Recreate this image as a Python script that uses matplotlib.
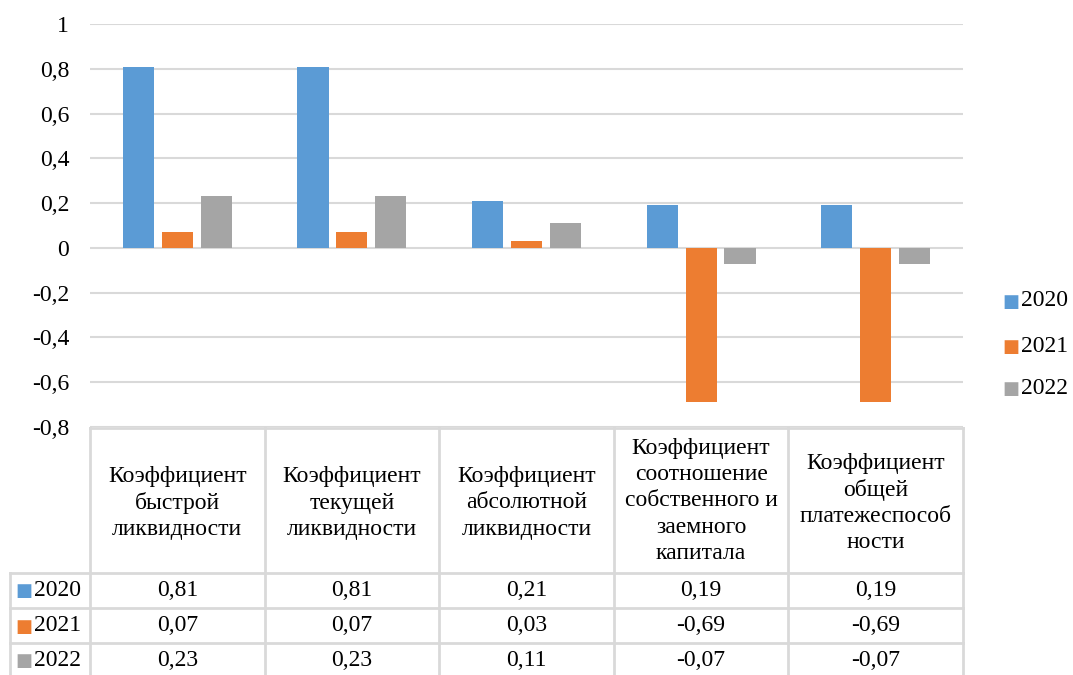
import numpy as np
import matplotlib.pyplot as plt
from matplotlib.ticker import FuncFormatter

categories = ["Коэффициент\nбыстрой\nликвидности",
              "Коэффициент\nтекущей\nликвидности",
              "Коэффициент\nабсолютной\nликвидности",
              "Коэффициент\nсоотношение\nсобственного и\nзаемного\nкапитала",
              "Коэффициент\nобщей\nплатежеспособ\nности"]
years = ["2020", "2021", "2022"]
v2020 = [0.81, 0.81, 0.21, 0.19, 0.19]
v2021 = [0.07, 0.07, 0.03, -0.69, -0.69]
v2022 = [0.23, 0.23, 0.11, -0.07, -0.07]
series = [v2020, v2021, v2022]
colors = ["#5B9BD5", "#ED7D31", "#A5A5A5"]

plt.rcParams['font.family'] = ['Liberation Serif', 'DejaVu Serif']
fs = 17
W, H = 1073, 675
fig = plt.figure(figsize=(W / 100, H / 100), dpi=100)

# plot area in pixels
px0, px1, py_top, py_bot = 90, 963, 24, 427
ax = fig.add_axes([px0 / W, 1 - py_bot / H, (px1 - px0) / W, (py_bot - py_top) / H])

x = np.arange(len(categories))
bw = 0.178
step = 0.223
for i, (vals, c) in enumerate(zip(series, colors)):
    ax.bar(x + (i - 1) * step, vals, bw, color=c, label=years[i], zorder=3)


def fmt(v, p=None):
    v = round(v, 1)
    if v == 0:
        return "0"
    return ("%g" % v).replace(".", ",")


ax.set_xlim(-0.5, len(categories) - 0.5)
ax.set_ylim(-0.8, 1.0)
ax.set_yticks(np.arange(-0.8, 1.01, 0.2))
ax.yaxis.set_major_formatter(FuncFormatter(fmt))
ax.tick_params(axis='y', length=0, labelsize=fs, pad=15)
ax.set_xticks([])
ax.grid(axis='y', color='#d9d9d9', lw=1.5, zorder=0)
for s in ax.spines.values():
    s.set_visible(False)


# table below the axes
def ya(py):
    return (py_bot - py) / (py_bot - py_top)


def xa(px):
    return (px - px0) / (px1 - px0)


grid_c = '#d9d9d9'
row_lines = [428, 573, 608, 643]
col_lines = [px0 + k * (px1 - px0) / 5 for k in range(6)]
kw = dict(color=grid_c, lw=2, clip_on=False, transform=ax.transAxes)
ax.plot([0, 1], [ya(428), ya(428)], **kw)
for cx in col_lines:
    ax.plot([xa(cx), xa(cx)], [ya(428), ya(H + 5)], **kw)
for ry in row_lines[1:]:
    ax.plot([xa(10), 1], [ya(ry), ya(ry)], **kw)
ax.plot([xa(10), xa(10)], [ya(573), ya(H + 5)], **kw)

for k, cat in enumerate(categories):
    cx = (col_lines[k] + col_lines[k + 1]) / 2
    cy = 503 if cat.count("\n") < 4 else 501
    ax.text(xa(cx), ya(cy), cat, ha='center', va='center', fontsize=fs,
            linespacing=1.32, transform=ax.transAxes, clip_on=False)

for i, (vals, c) in enumerate(zip(series, colors)):
    rc = (row_lines[1 + i] + (row_lines[2 + i] if i < 2 else 678)) / 2
    ax.text(xa(24), ya(rc + 1), "\u25A0", ha='center', va='center', fontsize=13,
            color=c, family='DejaVu Sans', transform=ax.transAxes, clip_on=False)
    ax.text(xa(34), ya(rc), years[i], ha='left', va='center', fontsize=fs,
            transform=ax.transAxes, clip_on=False)
    for k, v in enumerate(vals):
        cx = (col_lines[k] + col_lines[k + 1]) / 2
        ax.text(xa(cx), ya(rc), ("%.2f" % v).replace(".", ","), ha='center',
                va='center', fontsize=fs, transform=ax.transAxes, clip_on=False)

# legend on the right
for i, (y, c) in enumerate(zip([301, 346, 388], colors)):
    fig.text(1011 / W, 1 - (y + 1) / H, "\u25A0", ha='center', va='center', fontsize=13,
             color=c, family='DejaVu Sans')
    fig.text(1021 / W, 1 - y / H, years[i], ha='left', va='center', fontsize=fs)

fig.savefig("out.png", dpi=100)
